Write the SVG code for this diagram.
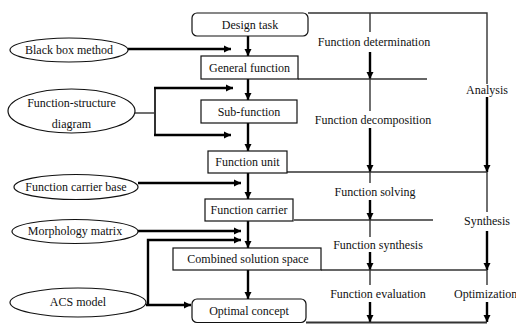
<svg xmlns="http://www.w3.org/2000/svg" width="516" height="324" viewBox="0 0 516 324" font-family="'Liberation Serif', 'DejaVu Serif', serif" font-size="12">
<defs>
<style>
text{fill:#111;font-family:'Liberation Serif','DejaVu Serif',serif;}
.c{text-anchor:middle;}
.box{fill:#fff;stroke:#111;stroke-width:1.2;}
.ell{fill:#fff;stroke:#111;stroke-width:1.2;}
.thin{stroke:#333;stroke-width:1.4;fill:none;}
.arr{stroke:#000;stroke-width:2.4;fill:none;marker-end:url(#ah);}
</style>
<marker id="ah" markerUnits="userSpaceOnUse" markerWidth="8" markerHeight="8" refX="7" refY="4" orient="auto">
<path d="M0,0.5 L7,4 L0,7.5 Z" fill="#000"/>
</marker>
</defs>
<rect width="516" height="324" fill="#fff"/>
<g id="connectors">
<polyline class="thin" points="308,13 487,13 487,84"/>
<line class="thin" x1="370" y1="13" x2="370" y2="32"/>
<line class="arr" x1="370" y1="52" x2="370" y2="79"/>
<line class="thin" x1="298" y1="79" x2="427" y2="79"/>
<line class="thin" x1="370" y1="79" x2="370" y2="111"/>
<line class="arr" x1="370" y1="128" x2="370" y2="172"/>
<line class="arr" x1="487" y1="97" x2="487" y2="172"/>
<line class="thin" x1="287" y1="172" x2="487" y2="172"/>
<line class="thin" x1="370" y1="172" x2="370" y2="183"/>
<line class="arr" x1="370" y1="200" x2="370" y2="220"/>
<line class="thin" x1="294" y1="220" x2="433" y2="220"/>
<line class="thin" x1="487" y1="172" x2="487" y2="212"/>
<line class="arr" x1="487" y1="231" x2="487" y2="270"/>
<line class="thin" x1="370" y1="220" x2="370" y2="237"/>
<line class="arr" x1="370" y1="252" x2="370" y2="270"/>
<line class="thin" x1="321" y1="270" x2="487" y2="270"/>
<line class="thin" x1="370" y1="270" x2="370" y2="285"/>
<line class="arr" x1="370" y1="302" x2="370" y2="322"/>
<line class="thin" x1="487" y1="270" x2="487" y2="285"/>
<line class="arr" x1="487" y1="302" x2="487" y2="322"/>
<line x1="306" y1="322.5" x2="487" y2="322.5" stroke="#333" stroke-width="2"/>
<line class="arr" x1="248" y1="36" x2="248" y2="56"/>
<line class="arr" x1="248" y1="79" x2="248" y2="100"/>
<line class="arr" x1="248" y1="123" x2="248" y2="151"/>
<line class="arr" x1="248" y1="173" x2="248" y2="199"/>
<line class="arr" x1="248" y1="221" x2="248" y2="248"/>
<line class="arr" x1="248" y1="270" x2="248" y2="299"/>
<line class="arr" x1="128" y1="49" x2="231" y2="49"/>
<line class="thin" x1="135" y1="113" x2="155" y2="113"/>
<line x1="155" y1="88" x2="155" y2="135" stroke="#333" stroke-width="2"/>
<line class="arr" x1="154" y1="88" x2="233" y2="88"/>
<line class="arr" x1="154" y1="135" x2="231" y2="135"/>
<line class="arr" x1="138" y1="183" x2="241" y2="183"/>
<line class="arr" x1="138" y1="231" x2="241" y2="231"/>
<polyline class="arr" points="148,305 148,240 241,240"/>
<line class="arr" x1="146" y1="305" x2="191" y2="305"/>
</g>
<g id="n-design-task"><rect class="box" x="192" y="13" width="116" height="23" rx="5"/><text class="c" x="250" y="29">Design task</text></g>
<g id="n-general-function"><rect class="box" x="201" y="56" width="97" height="23"/><text class="c" x="249.5" y="72">General function</text></g>
<g id="n-sub-function"><rect class="box" x="201" y="100" width="96" height="23"/><text class="c" x="249" y="116">Sub-function</text></g>
<g id="n-function-unit"><rect class="box" x="208" y="151" width="79" height="22"/><text class="c" x="247.5" y="166">Function unit</text></g>
<g id="n-function-carrier"><rect class="box" x="205" y="199" width="88" height="22"/><text class="c" x="249" y="214">Function carrier</text></g>
<g id="n-combined"><rect class="box" x="173" y="248" width="148" height="22"/><text class="c" x="248" y="263">Combined solution space</text></g>
<g id="n-optimal-concept"><rect class="box" x="192" y="299" width="114" height="23.5" rx="5"/><text class="c" x="249" y="315">Optimal concept</text></g>
<g id="n-black-box"><ellipse class="ell" cx="69" cy="50" rx="59" ry="12"/><text class="c" x="69" y="54">Black box method</text></g>
<g id="n-fs-diagram"><ellipse class="ell" cx="71.5" cy="111" rx="63.5" ry="22"/><text class="c" x="71.5" y="107">Function-structure</text><text class="c" x="71.5" y="128">diagram</text></g>
<g id="n-carrier-base"><ellipse class="ell" cx="76" cy="187" rx="62" ry="12.5"/><text class="c" x="76" y="191">Function carrier base</text></g>
<g id="n-morphology"><ellipse class="ell" cx="75" cy="231.5" rx="63" ry="12"/><text class="c" x="75" y="235">Morphology matrix</text></g>
<g id="n-acs"><ellipse class="ell" cx="78" cy="302.5" rx="68" ry="14.5"/><text class="c" x="78" y="306">ACS model</text></g>
<g id="labels">
<text class="c" x="374" y="46">Function determination</text>
<text class="c" x="373" y="124">Function decomposition</text>
<text class="c" x="375" y="196">Function solving</text>
<text class="c" x="378" y="249">Function synthesis</text>
<text class="c" x="378" y="298">Function evaluation</text>
<text class="c" x="487" y="94">Analysis</text>
<text class="c" x="487" y="225">Synthesis</text>
<text x="454" y="298">Optimization</text>
</g>
</svg>
